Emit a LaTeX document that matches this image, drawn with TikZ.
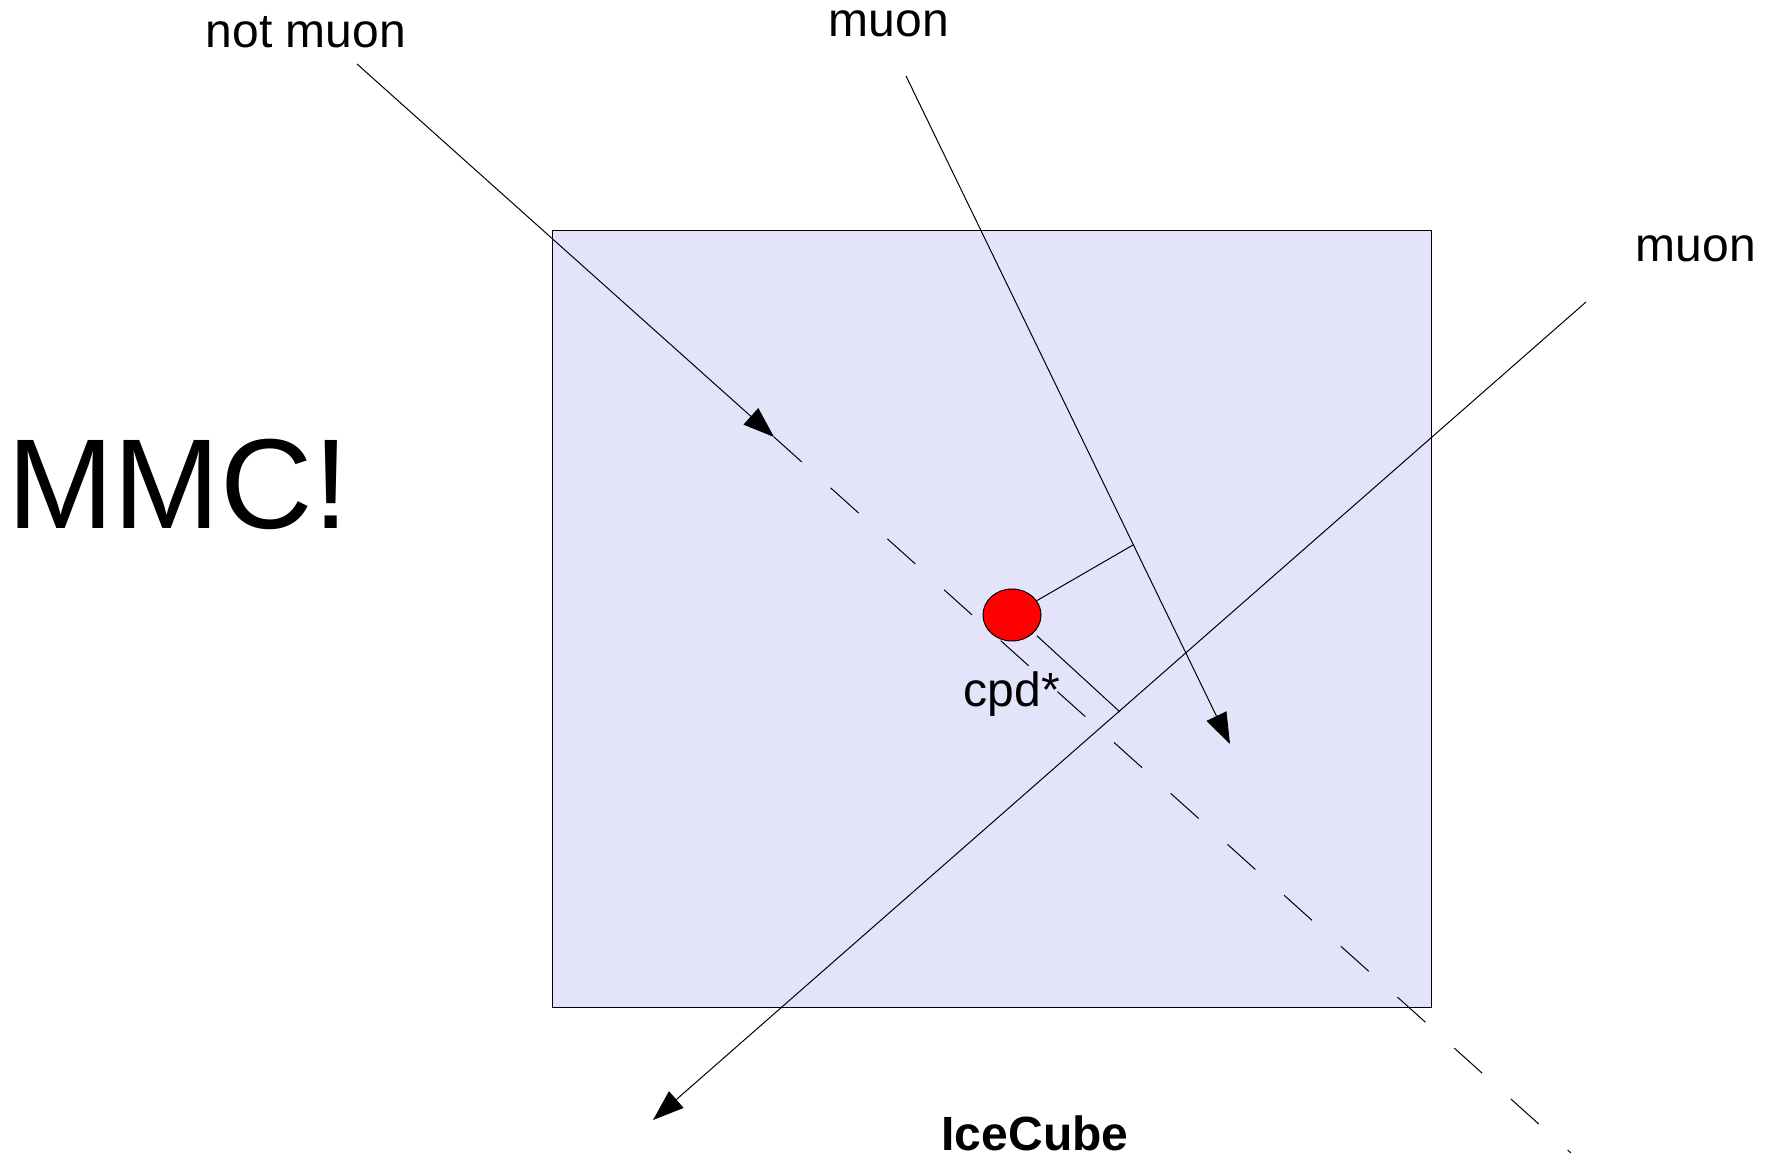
\documentclass[tikz,border=0pt]{standalone}
\usepackage{fontspec}
\setmainfont{Liberation Sans}
\usetikzlibrary{arrows.meta,shapes.geometric}
\definecolor{icefill}{RGB}{227,227,250}
\begin{document}
\begin{tikzpicture}[x=.5pt, y=-.5pt, line width=.5pt,
  every node/.style={font=\fontsize{24}{28}\selectfont, inner sep=0pt},
  tip/.style={-{Triangle[length=15.5pt,width=11pt]}}]
  \useasboundingbox (0,0) rectangle (1769,1159);
  \draw[fill=icefill] (552,231) rectangle (1431,1008);
  \coordinate (N0) at (357,64); \coordinate (N1) at (774,437); \coordinate (N3) at (1571,1153);
  \coordinate (M0) at (906,76); \coordinate (M1) at (1230,744); \coordinate (F1) at (1133,545);
  \coordinate (K0) at (1586,302); \coordinate (K1) at (653,1120); \coordinate (F2) at (1120,712);
  \draw[tip] (N0) -- (N1); \draw[dash pattern=on 18.75pt off 19.35pt] (N1) -- (N3);
  \draw[tip] (M0) -- (M1); \draw[tip] (K0) -- (K1);
  \node[ellipse, draw, fill=red, minimum width=29pt, minimum height=26pt] (cpd) at (1012,615) {};
  \draw (cpd) -- (F1); \draw ([shift={(4,2)}]cpd.south east) -- (F2);
  \foreach \n/\p/\t in {notmuon/{306,48}/not muon, muonA/{889,37}/muon, muonB/{1696,262}/muon, cpdlbl/{1012,707}/cpd*}
    \node[anchor=base] (\n) at (\p) {\t};
  \node[anchor=base, font=\fontsize{64}{68}\selectfont] (mmc) at (178,529) {MMC!};
  \node[anchor=base, font=\bfseries\fontsize{24}{28}\selectfont] (ice) at (1035,1151) {IceCube};
\end{tikzpicture}
\end{document}
